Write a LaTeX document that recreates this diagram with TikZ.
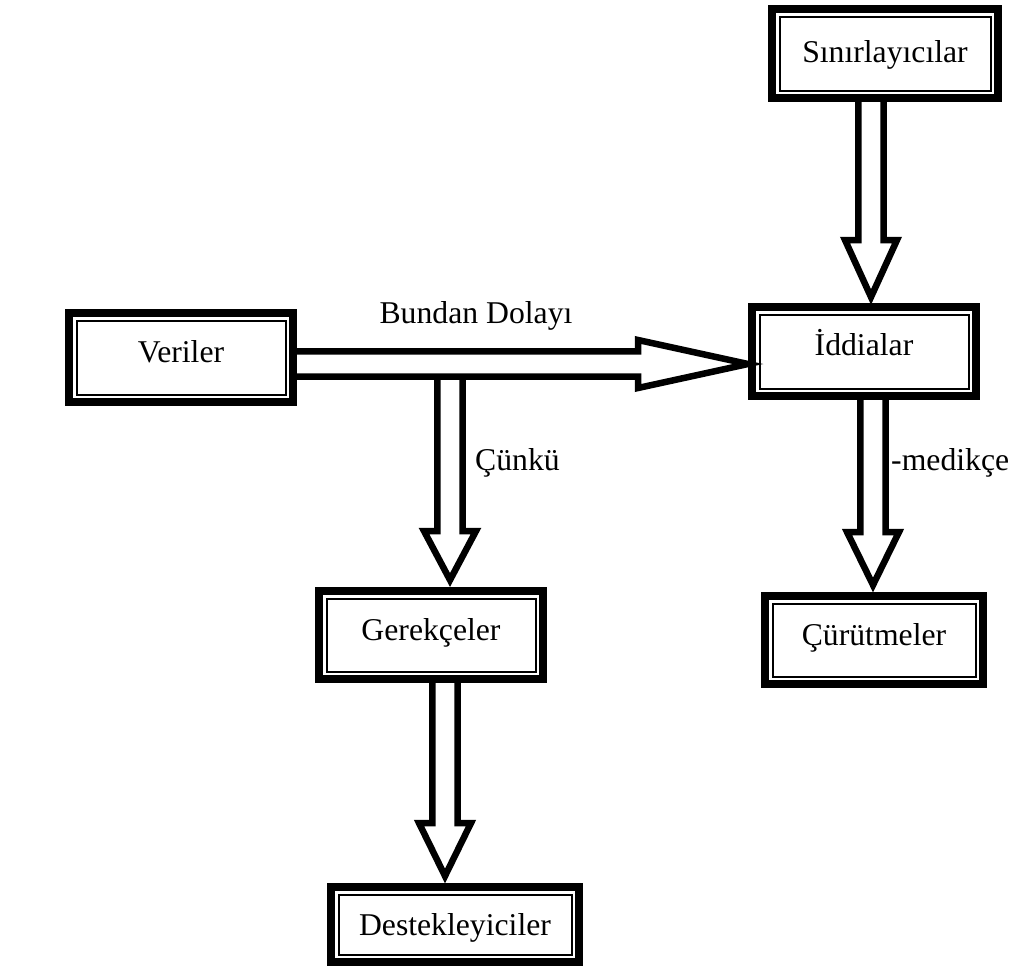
\documentclass[tikz,border=0pt]{standalone}
\usepackage{fontspec}
\setmainfont{Liberation Serif}
\usetikzlibrary{calc}
\tikzset{
  dbox/.style={draw, line width=8pt, fill=white, inner sep=0pt, text depth=0pt,
    font=\fontsize{31.7}{38}\selectfont},
  innerline/.style={draw, line width=2pt},
  barrow/.style={draw, line width=6.5pt, fill=white, line join=miter},
  lbl/.style={font=\fontsize{31.7}{38}\selectfont, inner sep=0pt, anchor=base},
}
\newcommand\varr[5]{% axis, from, to, head length L, tip offset t
  \draw[barrow] ($(#1 |- #2)+(-12.7,0)$) -- ($(#1 |- #3)+(-12.7,-#4)$) -- ($(#1 |- #3)+(-26,-#4)$)
   -- ($(#1 |- #3)+(0,-#5)$) -- ($(#1 |- #3)+(26,-#4)$) -- ($(#1 |- #3)+(12.7,-#4)$) -- ($(#1 |- #2)+(12.7,0)$);}
\begin{document}
\begin{tikzpicture}[x=1pt,y=-1pt]
\useasboundingbox (0,0) rectangle (1020,969);
% boxes
\node[dbox, minimum width=226pt, minimum height=89pt, text height=17pt] (sin) at (885,53.5) {Sınırlayıcılar};
\node[dbox, minimum width=224pt, minimum height=89pt, text height=9pt] (ver) at (181,357.5) {Veriler};
\node[dbox, minimum width=224pt, minimum height=89pt, text height=7pt] (idd) at (864,351.5) {İddialar};
\node[dbox, minimum width=224pt, minimum height=88pt, text height=10pt] (ger) at (431,635) {Gerekçeler};
\node[dbox, minimum width=218pt, minimum height=88pt, text height=10pt] (cur) at (874,640) {Çürütmeler};
\node[dbox, minimum width=248pt, minimum height=75pt, text height=21pt] (des) at (455,924.5) {Destekleyiciler};
\foreach \n in {sin,ver,idd,ger,cur,des}
  \draw[innerline] ([shift={(11.5pt,11.5pt)}]\n.south west) rectangle ([shift={(-11.5pt,-11.5pt)}]\n.north east);
% arrow axes
\coordinate (axS) at (871,0);
\coordinate (axC) at (450,0);
\coordinate (axI) at (873,0);
\coordinate (axG) at (445,0);
\coordinate (junc) at (450,370);
% vertical arrows
\varr{axS}{sin.south}{idd.north}{63}{6}
\varr{axC}{junc}{ger.north}{56}{7}
\varr{axI}{idd.south}{cur.north}{60}{7}
\varr{axG}{ger.south}{des.north}{60}{7}
% horizontal arrow
\draw[barrow] ($(ver.east)+(0,-6.2)$) -- ($(idd.west |- ver.east)+(-110,-6.2)$) -- ($(idd.west |- ver.east)+(-110,-17.5)$)
  -- ($(idd.west |- ver.east)+(0,6.5)$) -- ($(idd.west |- ver.east)+(-110,30.5)$) -- ($(idd.west |- ver.east)+(-110,19.2)$) -- ($(ver.east)+(0,19.2)$);
% labels
\node[lbl] (l1) at (476,323) {Bundan Dolayı};
\node[lbl, anchor=base west] (l2) at (475,470) {Çünkü};
\node[lbl, anchor=base west] (l3) at (891,470) {-medikçe};
\end{tikzpicture}
\end{document}
